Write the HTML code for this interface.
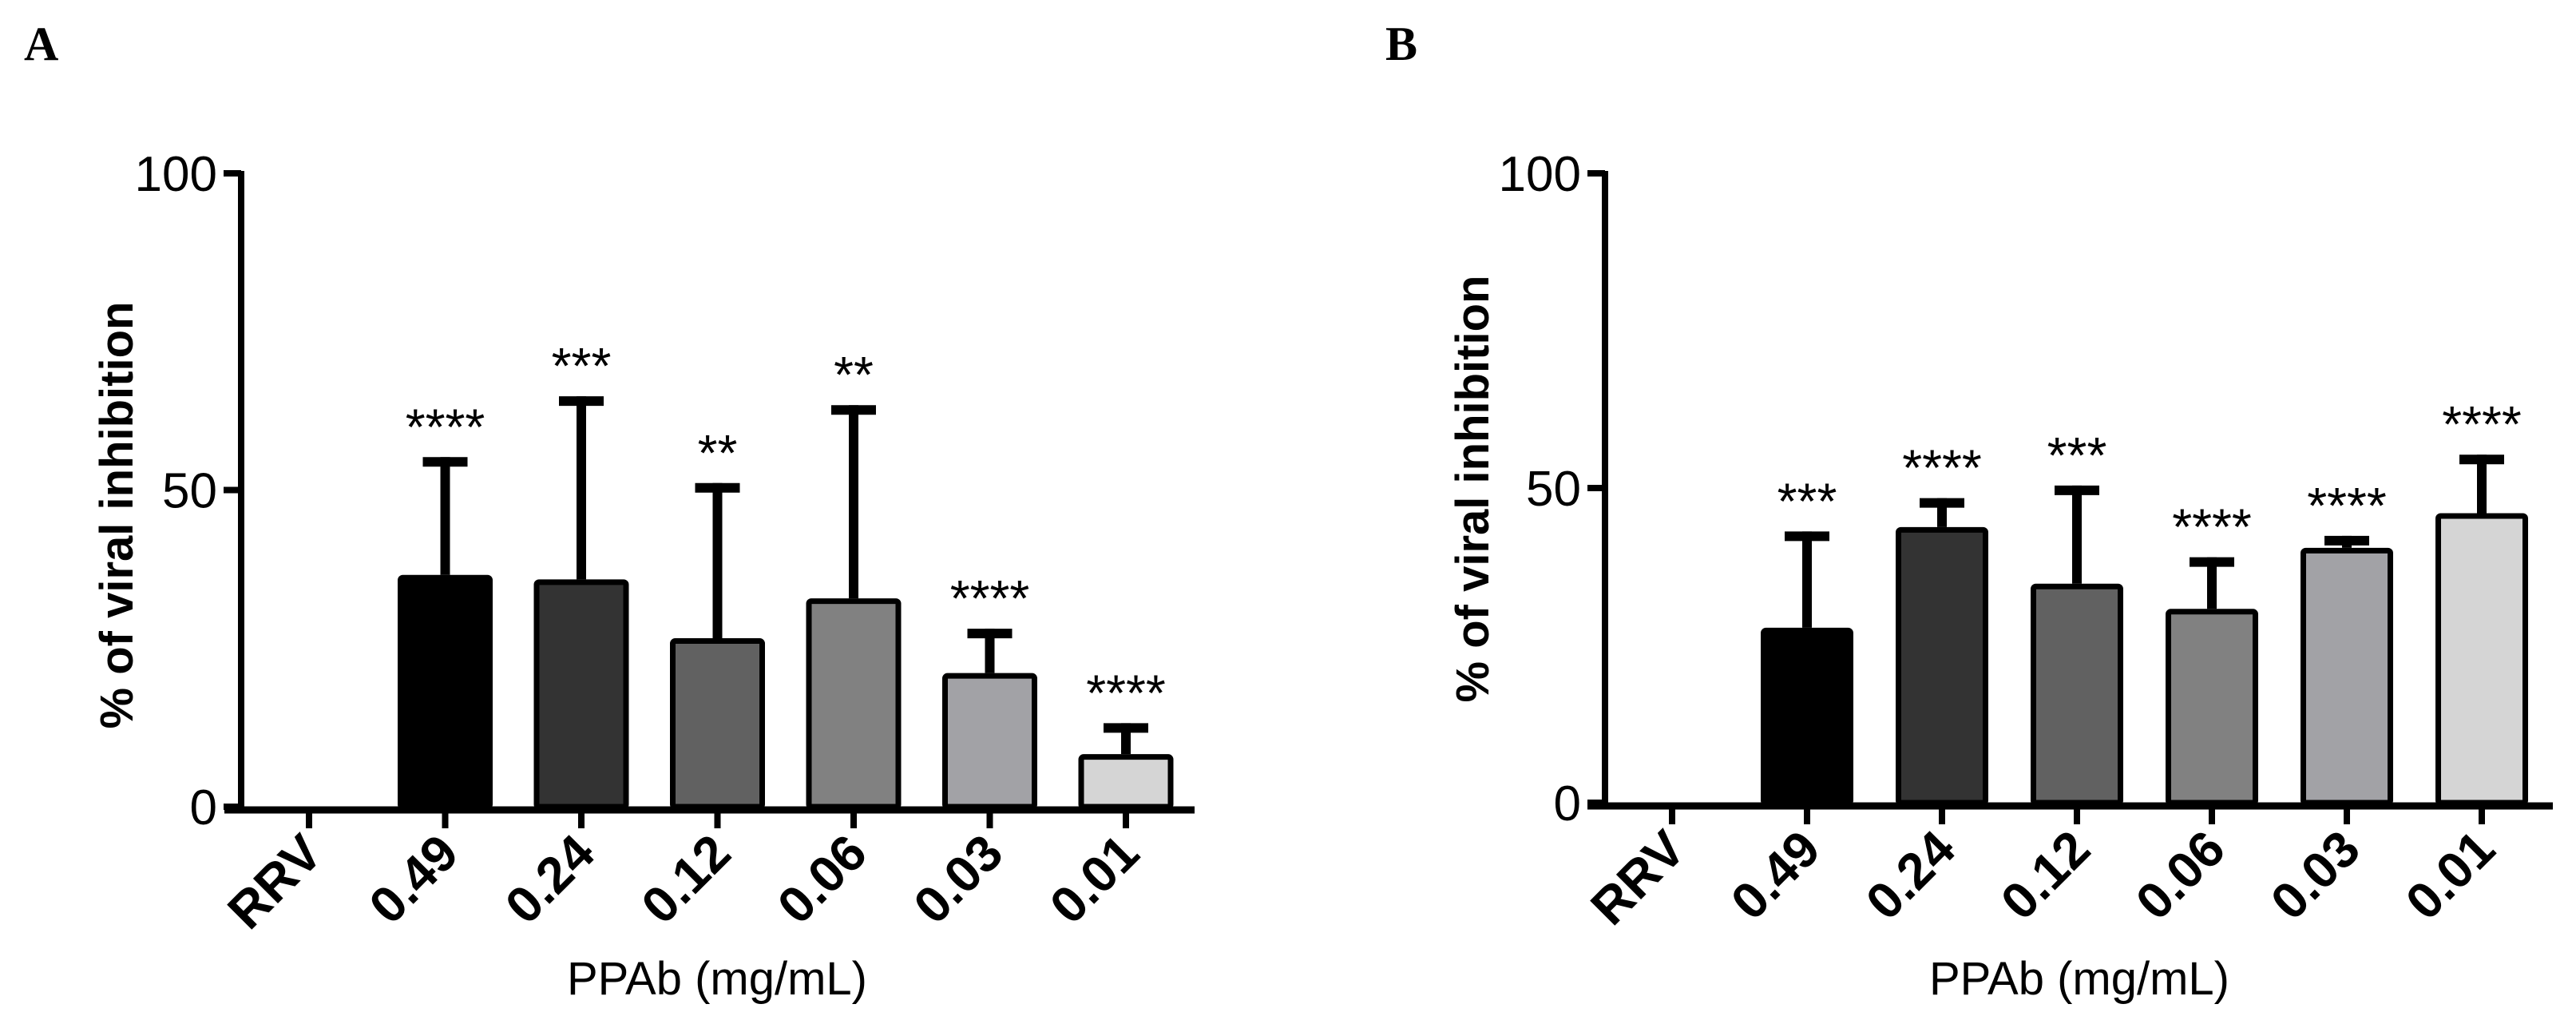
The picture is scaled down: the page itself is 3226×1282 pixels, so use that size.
<!DOCTYPE html>
<html><head><meta charset="utf-8"><style>
html,body{margin:0;padding:0;background:#fff;}
svg{display:block;}
text{font-family:"Liberation Sans",Arial,sans-serif;fill:#000;}
</style></head><body>
<svg id="fig" width="3226" height="1282" viewBox="0 0 3226 1282" xmlns="http://www.w3.org/2000/svg">
<text x="30" y="75" style="font-family:'Liberation Serif',serif;font-weight:bold;font-size:60px">A</text>
<text x="1735" y="75" style="font-family:'Liberation Serif',serif;font-weight:bold;font-size:60px">B</text>
</svg>
<script>
const categories = ["RRV","0.49","0.24","0.12","0.06","0.03","0.01"];
const valuesA = [0, 36.6, 35.9, 26.6, 32.9, 21.1, 8.3];
const errorsA = [0, 18.6, 28.9, 24.5, 30.5, 7.0, 4.9];
const starsA = ["", "****", "***", "**", "**", "****", "****"];
const valuesB = [0, 27.8, 43.8, 34.8, 30.8, 40.5, 46.0];
const errorsB = [0, 15.3, 4.6, 15.6, 8.2, 1.9, 9.3];
const starsB = ["", "***", "****", "***", "****", "****", "****"];
const yTicks = [0, 50, 100];
const fills = ["#ffffff","#000000","#333333","#616161","#818181","#a2a2a6","#d5d5d5"];

const NS = "http://www.w3.org/2000/svg";
const svg = document.getElementById("fig");
function mk(tag, attrs, parent) {
  const e = document.createElementNS(NS, tag);
  for (const k in attrs) e.setAttribute(k, attrs[k]);
  (parent || svg).appendChild(e);
  return e;
}

function panel(id, cfg, values, errors, stars) {
  const g = mk("g", {});
  
  
  const y = v => cfg.y0 - (v / 100) * (cfg.y0 - cfg.y100);
  const x = i => cfg.x0 + i * cfg.step;
  const ya = mk("line", {x1: cfg.ax, y1: y(100) - 3, x2: cfg.ax, y2: cfg.y0, stroke: "#000", "stroke-width": 8}, g);
  
  
  yTicks.forEach(t => {
    const tk = mk("line", {x1: cfg.ax - 22, y1: y(t), x2: cfg.ax, y2: y(t), stroke: "#000", "stroke-width": 8}, g);
    
    
    const tl = mk("text", {x: cfg.ax - 30, y: y(t) + 22, "text-anchor": "end", "font-size": 62}, g);
    tl.textContent = t;
    
    
  });
  values.forEach((v, i) => {
    if (v <= 0) return;
    const cx = x(i);
    const e = errors[i];
    const st = mk("line", {x1: cx, y1: y(v), x2: cx, y2: y(v + e), stroke: "#000", "stroke-width": 12}, g);
    
    
    const cap = mk("line", {x1: cx - 28, y1: y(v + e) + 6, x2: cx + 28, y2: y(v + e) + 6, stroke: "#000", "stroke-width": 12}, g);
    
    
    const b = mk("rect", {x: cx - cfg.bw / 2 + 3.5, y: y(v) + 3.5, width: cfg.bw - 7, height: cfg.y0 - y(v) - 3.5, fill: fills[i], stroke: "#000", "stroke-width": 7, rx: 3}, g);
    
    
    const s = mk("text", {x: cx, y: y(v + e) - 16, "text-anchor": "middle", "font-size": 64}, g);
    s.textContent = stars[i];
    
    
  });
  const xa = mk("line", {x1: cfg.axStart, y1: cfg.y0 + 4, x2: cfg.axEnd, y2: cfg.y0 + 4, stroke: "#000", "stroke-width": 9}, g);
  
  
  categories.forEach((c, i) => {
    const tk = mk("line", {x1: x(i), y1: cfg.y0, x2: x(i), y2: cfg.y0 + 27, stroke: "#000", "stroke-width": 8}, g);
    
    
    const tl = mk("text", {x: 0, y: 0, "text-anchor": "end", "font-size": 64, "font-weight": "bold",
      transform: "translate(" + (x(i) + 20) + "," + (cfg.y0 + 62) + ") rotate(-45)"}, g);
    tl.textContent = c;
    
    
  });
  const yt = mk("text", {x: 0, y: 0, "text-anchor": "middle", "font-size": 58, "font-weight": "bold",
    transform: "translate(" + cfg.ytx + "," + cfg.yty + ") rotate(-90)"}, g);
  yt.textContent = "% of viral inhibition";
  
  
  const xt = mk("text", {x: cfg.xtx, y: 1245, "text-anchor": "middle", "font-size": 58}, g);
  xt.textContent = "PPAb (mg/mL)";
  
  
}

panel("panel-a", {ax: 302, y0: 1010, y100: 217, x0: 387, step: 170.5, bw: 119, axStart: 281, axEnd: 1496, ytx: 166, yty: 645, xtx: 898}, valuesA, errorsA, starsA);
panel("panel-b", {ax: 2010, y0: 1005, y100: 217, x0: 2094, step: 169, bw: 116, axStart: 1988, axEnd: 3197, ytx: 1864, yty: 612, xtx: 2604}, valuesB, errorsB, starsB);
</script>
</body></html>
